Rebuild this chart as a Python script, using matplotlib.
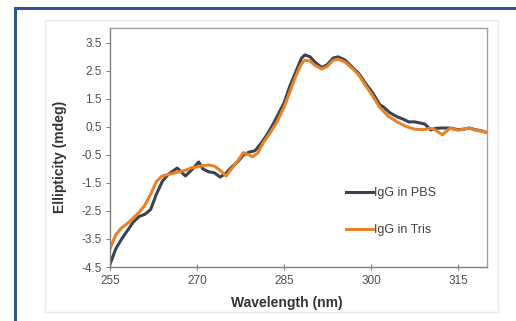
import matplotlib
matplotlib.use("Agg")
import matplotlib.pyplot as plt
from matplotlib.lines import Line2D
from matplotlib.patches import Rectangle

plt.rcParams['font.family'] = ['Liberation Sans', 'DejaVu Sans']

# CD spectra
wl_pbs = [255, 256, 257, 258, 259, 260, 261, 262, 263, 264, 265, 266, 266.6,
          268, 269, 270.3, 271, 272, 273, 274, 275, 276, 277, 278, 279, 280,
          281, 282, 283, 284, 285, 286, 287, 288, 288.6, 289.5, 290.3, 291.5,
          292.4, 293.5, 294.3, 295.5, 296.7, 297.8, 299, 300.3, 301.5, 302.2,
          303.3, 304.5, 305.5, 306.5, 307.5, 308.5, 309.3, 310.3, 311.2, 312,
          313.6, 315, 316, 317, 318, 319, 320]
cd_pbs = [-4.4, -3.85, -3.5, -3.2, -2.9, -2.7, -2.62, -2.45, -1.9, -1.45,
          -1.2, -1.05, -0.97, -1.25, -1.05, -0.75, -1.0, -1.1, -1.14, -1.29,
          -1.15, -0.93, -0.75, -0.5, -0.4, -0.35, -0.1, 0.2, 0.55, 0.95, 1.35,
          1.95, 2.45, 2.95, 3.07, 3.0, 2.82, 2.62, 2.71, 2.96, 3.0, 2.89,
          2.64, 2.43, 2.07, 1.71, 1.3, 1.2, 1.0, 0.86, 0.78, 0.68, 0.68, 0.64,
          0.6, 0.39, 0.45, 0.46, 0.46, 0.4, 0.42, 0.46, 0.4, 0.36, 0.3]

wl_tris = [255, 256, 257, 258, 259, 260, 261, 262, 263, 264, 265, 266, 267,
           268, 269, 270, 271, 272, 273, 274, 275, 276, 277, 278, 279, 279.5,
           280.5, 281.4, 282.6, 283.8, 285, 286, 287, 288, 288.6, 289.5,
           290.3, 291.5, 292.4, 293.5, 294.3, 295.5, 296.7, 297.8, 299, 300.3,
           301.5, 303, 304.5, 306, 307.5, 309, 310.2, 311, 312.3, 313.6, 315,
           316, 317, 318, 319, 320]
cd_tris = [-3.85, -3.35, -3.1, -2.95, -2.75, -2.55, -2.3, -1.9, -1.45, -1.25,
           -1.2, -1.15, -1.1, -1.05, -0.96, -0.93, -0.88, -0.86, -0.9, -1.05,
           -1.25, -0.98, -0.72, -0.42, -0.5, -0.57, -0.43, -0.07, 0.29, 0.68,
           1.2, 1.75, 2.3, 2.75, 2.88, 2.85, 2.7, 2.57, 2.65, 2.88, 2.92,
           2.82, 2.6, 2.38, 2.0, 1.6, 1.2, 0.88, 0.68, 0.52, 0.42, 0.4, 0.45,
           0.4, 0.22, 0.45, 0.38, 0.42, 0.46, 0.38, 0.35, 0.3]

x_ticks = [255, 270, 285, 300, 315]
y_ticks = [-4.5, -3.5, -2.5, -1.5, -0.5, 0.5, 1.5, 2.5, 3.5]

fig = plt.figure(figsize=(5.16, 3.21), dpi=100)
ax = fig.add_axes([0.2132, 0.1682, 0.7306, 0.7446])

# outer chart box and blue frame
fig.add_artist(Rectangle((45 / 516, 1 - 312 / 321), 453 / 516, 292 / 321,
                         transform=fig.transFigure, fill=False,
                         edgecolor='#e8e8e8', lw=1))
fig.add_artist(Line2D([15 / 516, 1.0], [1 - 8 / 321, 1 - 8 / 321],
                      transform=fig.transFigure, color='#2f5597', lw=2.2))
fig.add_artist(Line2D([15 / 516, 15 / 516], [0, 1 - 8 / 321],
                      transform=fig.transFigure, color='#2f5597', lw=2.2))

ax.plot(wl_pbs, cd_pbs, color='#3b4350', lw=2.2, label='IgG in PBS')
ax.plot(wl_tris, cd_tris, color='#e8822a', lw=2.2, label='IgG in Tris')

ax.set_xlim(255, 320)
ax.set_ylim(-4.5, 4.03)
ax.set_xticks(x_ticks)
ax.set_yticks(y_ticks)
ax.set_yticklabels([f'{v:.1f}' for v in y_ticks])

for side in ['left', 'bottom']:
    ax.spines[side].set_color('#808080')
    ax.spines[side].set_linewidth(1.0)
for side in ['top', 'right']:
    ax.spines[side].set_color('#a0a0a0')
    ax.spines[side].set_linewidth(1.0)

ax.tick_params(axis='y', direction='out', length=3, width=0.8,
               color='#808080', labelsize=8.5, labelcolor='#505050', pad=3)
ax.tick_params(axis='x', direction='inout', length=5, width=0.8,
               color='#808080', labelsize=8.5, labelcolor='#505050', pad=3)

ax.set_xlabel('Wavelength (nm)', fontsize=10, fontweight='bold',
              color='#333333')
ax.xaxis.set_label_coords(0.47, -0.12)
ax.set_ylabel('Ellipticity (mdeg)', fontsize=10, fontweight='bold',
              color='#333333')
ax.yaxis.set_label_coords(-0.115, 0.46)

ax.legend(loc='upper left', bbox_to_anchor=(0.627, 0.335), frameon=False,
          fontsize=9, handlelength=2.1, handletextpad=0.1, labelspacing=2.0,
          borderpad=0, borderaxespad=0, labelcolor='#404040')

fig.savefig('out.png', dpi=100)
